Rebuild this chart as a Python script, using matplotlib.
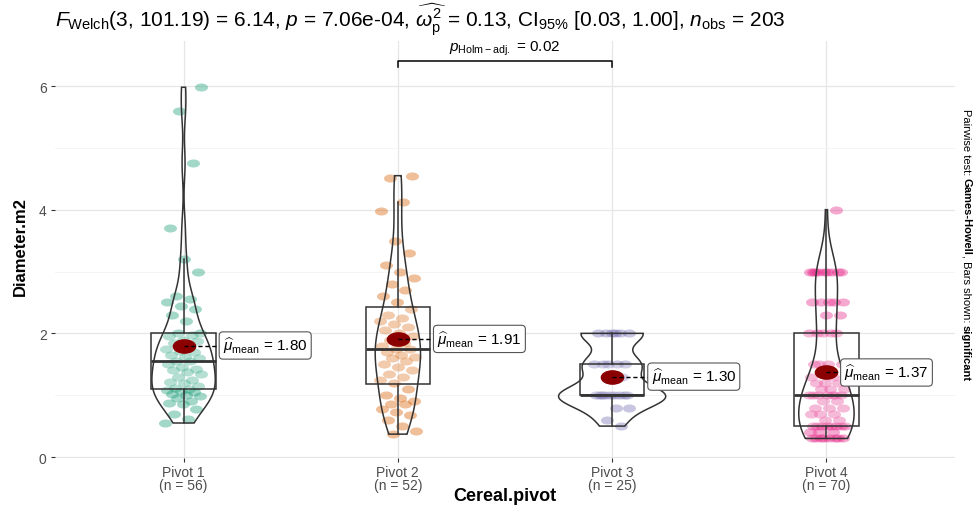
import numpy as np
import matplotlib
matplotlib.use('Agg')
import matplotlib.pyplot as plt
from matplotlib.path import Path
from matplotlib.patches import Polygon, Rectangle

plt.rcParams['font.family'] = ['Liberation Sans', 'DejaVu Sans']
plt.rcParams['mathtext.fontset'] = 'custom'
plt.rcParams['mathtext.rm'] = 'Liberation Sans'
plt.rcParams['mathtext.it'] = 'Liberation Sans:italic'
plt.rcParams['mathtext.bf'] = 'Liberation Sans:bold'

# ---------------- data ----------------
categories = ['Pivot 1', 'Pivot 2', 'Pivot 3', 'Pivot 4']
pivot1 = [0.55, 0.62, 0.7, 0.78, 0.85, 0.88, 0.9, 0.95, 0.98, 1.0, 1.02, 1.05, 1.06, 1.08,
          1.1, 1.12, 1.15, 1.2, 1.22, 1.25, 1.3, 1.35, 1.38, 1.4, 1.42, 1.45, 1.5, 1.55,
          1.55, 1.6, 1.62, 1.65, 1.7, 1.72, 1.75, 1.8, 1.85, 1.88, 1.9, 1.95, 1.98, 2.0,
          2.0, 2.2, 2.3, 2.4, 2.45, 2.5, 2.55, 2.6, 3.0, 3.2, 3.7, 4.75, 5.6, 5.98]
pivot2 = [0.37, 0.42, 0.5, 0.6, 0.68, 0.72, 0.78, 0.85, 0.85, 0.9, 0.95, 1.0, 1.1,
          1.2, 1.25, 1.3, 1.35, 1.4, 1.45, 1.5, 1.55, 1.6, 1.62, 1.65, 1.7, 1.75,
          1.75, 1.8, 1.85, 1.9, 1.95, 2.0, 2.05, 2.1, 2.15, 2.2, 2.25, 2.3, 2.4,
          2.5, 2.6, 2.7, 2.8, 2.9, 3.0, 3.1, 3.3, 3.5, 3.98, 4.13, 4.52, 4.55]
pivot3 = [0.5, 0.6, 0.8, 0.8, 1.0, 1.0, 1.0, 1.0, 1.0, 1.0, 1.0, 1.0, 1.0,
          1.3, 1.5, 1.5, 1.5, 1.5, 1.5, 2.0, 2.0, 2.0, 2.0, 2.0, 2.0]
pivot4 = [0.3] * 8 + [0.4] * 3 + [0.5] * 8 + [0.6] * 2 + [0.7] * 3 + [0.8] * 3 + [0.9] * 2 + \
         [1.0] * 7 + [1.1] * 3 + [1.2] * 3 + [1.3] * 2 + [1.5] * 4 + [2.0] * 5 + [2.3] * 2 + \
         [2.5] * 5 + [3.0] * 9 + [4.0]
groups = [pivot1, pivot2, pivot3, pivot4]
colors = ['#1B9E77', '#D95F02', '#7570B3', '#E7298A']

title_str = (r"$F_{\mathrm{Welch}}$(3, 101.19) = 6.14, $p$ = 7.06e-04, "
             r"$\widehat{\omega_{\mathrm{p}}^{2}}$ = 0.13, CI$_{\mathrm{95\%}}$ [0.03, 1.00], "
             r"$n_{\mathrm{obs}}$ = 203")
pair_label = r"$p_{\mathrm{Holm-adj.}}$ = 0.02"
pair_groups = (2, 3)
xlabel = 'Cereal.pivot'
ylabel = 'Diameter.m2'
caption_parts = [("Pairwise test: ", 'normal'), ("Games-Howell", 'bold'),
                 (", Bars shown: ", 'normal'), ("significant", 'bold')]

# ---------------- figure ----------------
W, H = 975, 506
fig = plt.figure(figsize=(W / 100, H / 100), dpi=100)
ax = fig.add_axes([55 / W, 1 - 459 / H, 900 / W, (459 - 42) / H])
ax.set_xlim(0.4, 4.6)
ax.set_ylim(-0.016, 6.728)
for s in ax.spines.values():
    s.set_visible(False)

ax.set_yticks([0, 2, 4, 6])
ax.set_yticks([1, 3, 5], minor=True)
ax.set_xticks([1, 2, 3, 4])
ax.set_xticklabels([f"{c}\n(n = {len(g)})" for c, g in zip(categories, groups)],
                   fontsize=10, color='#4D4D4D', linespacing=0.95)
ax.tick_params(axis='y', which='major', length=3, width=0.8, color='#333333',
               labelsize=10, labelcolor='#4D4D4D', pad=3)
ax.tick_params(axis='y', which='minor', length=0)
ax.tick_params(axis='x', length=3, width=0.8, color='#333333', pad=2)
ax.grid(True, which='major', color='#E6E6E6', lw=0.9, zorder=0)
ax.grid(True, which='minor', axis='y', color='#F2F2F2', lw=0.6, zorder=0)
ax.set_axisbelow(True)

circ = Path.unit_circle()
ell = Path(circ.vertices * np.array([1.0, 0.62]), circ.codes)

def kde(vals):
    v = np.asarray(vals, float)
    n = len(v)
    sd = v.std(ddof=1)
    q75, q25 = np.percentile(v, [75, 25])
    lo = min(sd, (q75 - q25) / 1.34) if q75 > q25 else sd
    bw = 0.9 * lo * n ** -0.2
    grid = np.linspace(v.min(), v.max(), 512)
    d = np.exp(-0.5 * ((grid[:, None] - v[None, :]) / bw) ** 2).sum(1) / (n * bw * np.sqrt(2 * np.pi))
    return grid, d

dens = [kde(g) for g in groups]
dmax = max(d.max() for _, d in dens)

line_col = '#333333'
for i, (g, col) in enumerate(zip(groups, colors)):
    x0 = i + 1
    v = np.sort(np.asarray(g, float))
    n = len(v)
    jit = 0.085 * (2 * ((np.arange(n) * 0.618034 + 0.37 * i) % 1.0) - 1)
    ax.scatter(x0 + jit, v, s=88, marker=ell, color=col, alpha=0.4, linewidths=0, zorder=2)

    # boxplot
    q1, med, q3 = np.percentile(v, [25, 50, 75])
    iqr = q3 - q1
    wlo = v[v >= q1 - 1.5 * iqr].min()
    whi = v[v <= q3 + 1.5 * iqr].max()
    bw_ = 0.15
    ax.add_patch(Rectangle((x0 - bw_, q1), 2 * bw_, q3 - q1, facecolor=(1, 1, 1, 0.2),
                           edgecolor=line_col, lw=1.1, zorder=3))
    ax.plot([x0 - bw_, x0 + bw_], [med, med], color=line_col, lw=2.0, zorder=3, solid_capstyle='butt')
    ax.plot([x0, x0], [q3, whi], color=line_col, lw=1.1, zorder=3)
    ax.plot([x0, x0], [wlo, q1], color=line_col, lw=1.1, zorder=3)

    # violin
    grid, d = dens[i]
    half = 0.25 * d / dmax
    xs = np.concatenate([x0 - half, (x0 + half)[::-1]])
    ys = np.concatenate([grid, grid[::-1]])
    ax.add_patch(Polygon(np.column_stack([xs, ys]), closed=True, facecolor='none',
                         edgecolor=line_col, lw=1.1, zorder=4))

    # mean
    m = v.mean()
    ax.scatter([x0], [m], s=290, marker=ell, color='#8B0000', linewidths=0, zorder=5)
    lab_off = 0.17 if i < 3 else 0.07
    ax.plot([x0, x0 + lab_off], [m, m], color='black', lw=1.0, ls=(0, (3, 2)), zorder=6)
    ax.text(x0 + lab_off + 0.014, m, r"$\widehat{\mu}_{\mathrm{mean}}$ = " + f"{m:.2f}",
            fontsize=11, ha='left', va='center', zorder=7,
            bbox=dict(boxstyle='round,pad=0.25,rounding_size=0.25', facecolor='white',
                      edgecolor='#555555', lw=0.8))

# significance bracket
a, b = pair_groups
yb = 6.41
ax.plot([a, a, b, b], [yb - 0.1, yb, yb, yb - 0.1], color='black', lw=1.1, zorder=6)
ax.text((a + b) / 2, yb + 0.06, pair_label, ha='center', va='bottom', fontsize=11, zorder=7)

# labels
fig.text(55 / W, 1 - 20 / H, title_str, ha='left', va='center', fontsize=15)
fig.text(505 / W, 1 - 497 / H, xlabel, ha='center', va='center', fontsize=13, fontweight='bold')
fig.text(20 / W, 1 - 247 / H, ylabel, ha='center', va='center', rotation=90,
         fontsize=12, fontweight='bold')

# caption (vertical, right side)
fig.canvas.draw()
r = fig.canvas.get_renderer()
tmp = [fig.text(0, 0, t, fontsize=8, fontweight=w, rotation=270) for t, w in caption_parts]
lens = [t.get_window_extent(r).height for t in tmp]
for t in tmp:
    t.remove()
total = sum(lens)
ycur = (H - 245) + total / 2
for (t, w), L in zip(caption_parts, lens):
    fig.text(966 / W, ycur / H, t, fontsize=8, fontweight=w, rotation=270,
             ha='center', va='top')
    ycur -= L

fig.savefig('out.png', dpi=100)
